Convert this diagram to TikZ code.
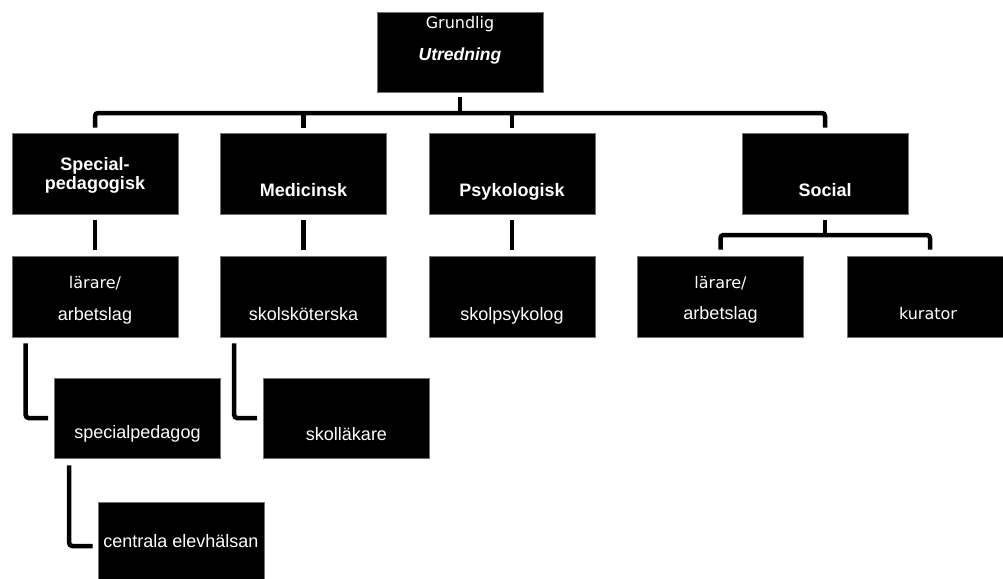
\documentclass[tikz,border=0pt]{standalone}
\usepackage{fontspec}
\setmainfont{Liberation Sans}
\newfontfamily\comic{DejaVu Sans}
\begin{document}
\begin{tikzpicture}[x=1pt,y=-1pt,
  box/.style={fill=black,draw=black!55,line width=0.6pt,minimum width=166pt,minimum height=80pt,inner sep=0pt},
  txt/.style={text=white,anchor=base,inner sep=0pt,font=\fontsize{18}{20}\selectfont},
  ctxt/.style={text=white,anchor=base,inner sep=0pt,font=\comic\fontsize{16}{20}\selectfont},
  btxt/.style={txt,font=\fontsize{18}{20}\selectfont\bfseries},
  conn/.style={line width=4.5pt,draw=black,rounded corners=3pt}]
\useasboundingbox (0,0) rectangle (1003,578);
\clip (0,0) rectangle (1003,578);
% boxes
\node[box] (top) at (460,52) {};
\node[box,minimum height=81pt] (sp) at (95,173.5) {};
\node[box,minimum height=81pt] (med) at (303.5,173.5) {};
\node[box,minimum height=81pt] (psy) at (512,173.5) {};
\node[box,minimum height=81pt] (soc) at (825,173.5) {};
\node[box,minimum height=81pt] (lar1) at (95,296.5) {};
\node[box,minimum height=81pt] (skols) at (303.5,296.5) {};
\node[box,minimum height=81pt] (skolp) at (512,296.5) {};
\node[box,minimum height=81pt] (lar2) at (720.5,296.5) {};
\node[box,minimum height=81pt] (kur) at (930,296.5) {};
\node[box] (spped) at (137.5,418) {};
\node[box] (skoll) at (346.5,418) {};
\node[box] (cent) at (181,542) {};
% texts
\node[ctxt] (t1) at (460,29) {Grundlig};
\node[btxt,font=\fontsize{17.5}{20}\selectfont\bfseries\itshape] (t2) at (460,60) {Utredning};
\node[btxt] (t3) at (95,170) {Special-};
\node[btxt] (t4) at (95,189.5) {pedagogisk};
\node[btxt] (t5) at (303.5,196) {Medicinsk};
\node[btxt] (t6) at (512,196) {Psykologisk};
\node[btxt] (t7) at (825,196) {Social};
\node[ctxt] (t8) at (95,288) {lärare/};
\node[txt] (t9) at (95,320) {arbetslag};
\node[txt] (t10) at (303.5,320) {skolsköterska};
\node[txt] (t11) at (512,320.5) {skolpsykolog};
\node[ctxt] (t12) at (720.5,288) {lärare/};
\node[txt] (t13) at (720.5,319.5) {arbetslag};
\node[ctxt] (t14) at (928,319.5) {kurator};
\node[txt] (t15) at (137.5,438) {specialpedagog};
\node[txt] (t16) at (346.5,440) {skolläkare};
\node[txt] (t17) at (181,547) {centrala elevhälsan};
% connectors
\coordinate (bus) at (0,113);
\coordinate (bus2) at (0,235);
\draw[conn] ([yshift=-5pt]top.south) -- (top.south |- bus);
\draw[conn] ([yshift=5pt]sp.north) -- (sp.north |- bus) -- (soc.north |- bus) -- ([yshift=5pt]soc.north);
\draw[conn] (med.north |- bus) -- ([yshift=5pt]med.north);
\draw[conn] (psy.north |- bus) -- ([yshift=5pt]psy.north);
\draw[conn] ([yshift=-6pt]sp.south) -- ([yshift=6pt]lar1.north);
\draw[conn] ([yshift=-6pt]med.south) -- ([yshift=6pt]skols.north);
\draw[conn] ([yshift=-6pt]psy.south) -- ([yshift=6pt]skolp.north);
\draw[conn] ([yshift=-6pt]soc.south) -- (soc.south |- bus2);
\draw[conn] ([yshift=6pt]lar2.north) -- (lar2.north |- bus2) -- (kur.north |- bus2) -- ([yshift=6pt]kur.north);
\draw[conn] ([xshift=14pt,yshift=-6pt]lar1.south west) |- ([xshift=-6pt]spped.west);
\draw[conn] ([xshift=14pt,yshift=-6pt]skols.south west) |- ([xshift=-6pt]skoll.west);
\draw[conn] ([xshift=15pt,yshift=-7pt]spped.south west) |- ([xshift=-5pt,yshift=-4pt]cent.west);
\end{tikzpicture}
\end{document}
